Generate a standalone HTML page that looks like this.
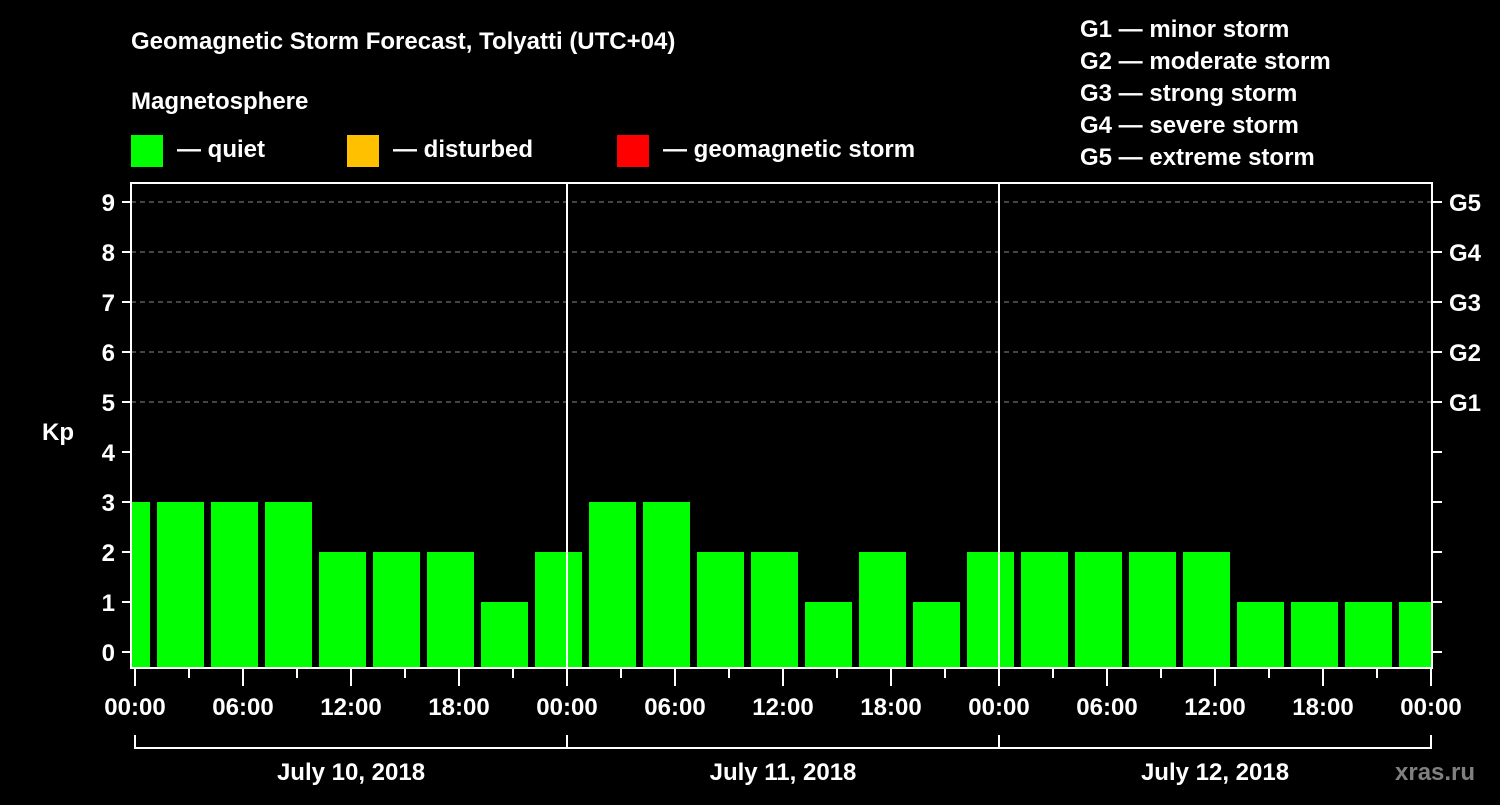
<!DOCTYPE html>
<html><head><meta charset="utf-8"><style>
body{margin:0;background:#000;width:1500px;height:800px;overflow:hidden}
svg text{font-family:"Liberation Sans",Arial,sans-serif;font-weight:bold;fill:#fff}
</style></head><body>
<svg id="chart" width="1500" height="800" viewBox="0 0 1500 800">
<rect width="1500" height="800" fill="#000"/>
<text x="131" y="49" font-size="24">Geomagnetic Storm Forecast, Tolyatti (UTC+04)</text>
<text x="131" y="109" font-size="24">Magnetosphere</text>
<g><rect x="131" y="135" width="32" height="32" fill="#00ff00"/><text x="177" y="157" font-size="24">— quiet</text></g>
<g><rect x="347" y="135" width="32" height="32" fill="#ffc000"/><text x="393" y="157" font-size="24">— disturbed</text></g>
<g><rect x="617" y="135" width="32" height="32" fill="#ff0000"/><text x="663" y="157" font-size="24">— geomagnetic storm</text></g>
<g font-size="24">
<text x="1080" y="37">G1 — minor storm</text><text x="1080" y="69">G2 — moderate storm</text><text x="1080" y="101">G3 — strong storm</text><text x="1080" y="133">G4 — severe storm</text><text x="1080" y="165">G5 — extreme storm</text>
</g>
<g id="grid"></g><g id="bars"></g><g id="axes"></g>
<text x="42" y="440" font-size="24">Kp</text>
<text x="1395" y="780" font-size="24" style="fill:#808080">xras.ru</text>
</svg>
<script>
const kpValues=[3,3,3,3,2,2,2,1,2,3,3,2,2,1,2,1,2,2,2,2,2,1,1,1,1];
const startHours=[-2,1,4,7,10,13,16,19,22,25,28,31,34,37,40,43,46,49,52,55,58,61,64,67,70];
const yTicks=[0,1,2,3,4,5,6,7,8,9];
const gLabels=["G1","G2","G3","G4","G5"];
const gLevels=[5,6,7,8,9];
const timeLabels=["00:00","06:00","12:00","18:00"];
const dateLabels=["July 10, 2018","July 11, 2018","July 12, 2018"];
const NS="http://www.w3.org/2000/svg";
const X0=135,PXH=18,L=131,R=1432,T=183,B=668;
const xs=h=>X0+h*PXH, ys=k=>652-50*k;
function mk(tag,attrs,parent,text){const e=document.createElementNS(NS,tag);for(const k in attrs)e.setAttribute(k,attrs[k]);if(text!==undefined)e.textContent=text;document.getElementById(parent).appendChild(e);return e;}
yTicks.forEach(k=>{
 if(k>=5){const g=mk('line',{x1:L,x2:R,y1:ys(k),y2:ys(k),stroke:'#888','stroke-dasharray':'5,4','stroke-width':1},'grid');
 
 }
 const t=mk('line',{x1:122,x2:L,y1:ys(k),y2:ys(k),stroke:'#fff','stroke-width':2},'axes');
 
 
 const t2=mk('line',{x1:R,x2:1442,y1:ys(k),y2:ys(k),stroke:'#fff','stroke-width':2},'axes');
 
 
 const l=mk('text',{x:115,y:ys(k)+9,'font-size':24,'text-anchor':'end'},'axes',String(k));
 
 
});
gLabels.forEach((g,i)=>{const l=mk('text',{x:1449,y:ys(gLevels[i])+9,'font-size':24},'axes',g);
 
 });
kpValues.forEach((v,i)=>{
 let x1=xs(startHours[i])+4,x2=xs(startHours[i]+3)-3;
 x1=Math.max(x1,L+1);x2=Math.min(x2,R-1);
 const r=mk('rect',{x:x1,y:ys(v),width:x2-x1,height:B-ys(v),fill:v>=5?'#ff0000':(v>=4?'#ffc000':'#00ff00')},'bars');
 
 
});
const fr=mk('rect',{x:L,y:T,width:R-L,height:B-T,fill:'none',stroke:'#fff','stroke-width':2},'axes');


[24,48].forEach(h=>{const s=mk('line',{x1:xs(h),x2:xs(h),y1:T,y2:B,stroke:'#fff','stroke-width':2},'axes');
 
 });
for(let h=0;h<=72;h+=3){
 const tk=mk('line',{x1:xs(h),x2:xs(h),y1:B,y2:h%6?678:686,stroke:'#fff','stroke-width':2},'axes');
 
 
 if(h%6===0){const l=mk('text',{x:xs(h),y:715,'font-size':24,'text-anchor':'middle'},'axes',timeLabels[(h/6)%4]);
 
 }
}
const br=mk('path',{d:`M${xs(0)},735V748H${xs(72)}V735M${xs(24)},735V748M${xs(48)},735V748`,fill:'none',stroke:'#fff','stroke-width':2},'axes');


dateLabels.forEach((d,i)=>{const l=mk('text',{x:xs(12+24*i),y:780,'font-size':24,'text-anchor':'middle'},'axes',d);
 
 });
</script>
</body></html>
